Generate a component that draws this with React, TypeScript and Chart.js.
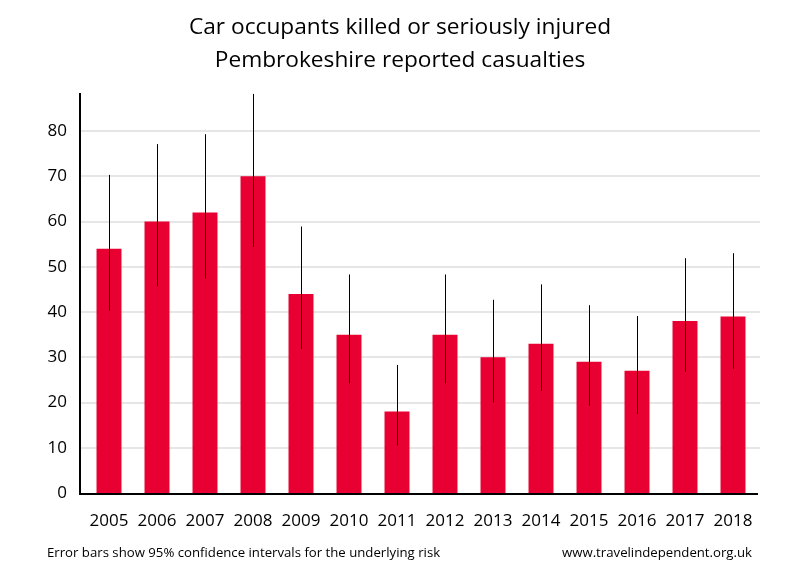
import React, { useEffect, useRef } from "react";
import { Chart, registerables } from "chart.js";

Chart.register(...registerables);

const years = ["2005","2006","2007","2008","2009","2010","2011","2012","2013","2014","2015","2016","2017","2018"];
const casualties = [54, 60, 62, 70, 44, 35, 18, 35, 30, 33, 29, 27, 38, 39];
const lowerCI = [40.3, 45.7, 47.4, 54.4, 31.8, 24.2, 10.5, 24.2, 20.0, 22.6, 19.3, 17.5, 26.8, 27.5];
const upperCI = [70.3, 77.1, 79.3, 88.2, 58.9, 48.3, 28.3, 48.3, 42.7, 46.1, 41.5, 39.1, 51.9, 53.0];
const titleLines = ["Car occupants killed or seriously injured", "Pembrokeshire reported casualties"];
const footLeft = "Error bars show 95% confidence intervals for the underlying risk";
const footRight = "www.travelindependent.org.uk";

const FONT = "'Open Sans', 'DejaVu Sans', sans-serif";

const decor = {
  id: "decor",
  beforeDatasetsDraw(chart: any) {
    const { ctx, scales } = chart;
    const y = scales.y;
    ctx.save();
    ctx.strokeStyle = "#e6e6e6";
    ctx.lineWidth = 2;
    for (let v = 10; v <= 80; v += 10) {
      const py = Math.round(y.getPixelForValue(v));
      ctx.beginPath();
      ctx.moveTo(80, py);
      ctx.lineTo(760, py);
      ctx.stroke();
    }
    ctx.restore();
  },
  afterDatasetsDraw(chart: any) {
    const { ctx, chartArea, scales } = chart;
    const x = scales.x;
    const y = scales.y;
    ctx.save();
    ctx.strokeStyle = "#000";
    ctx.lineWidth = 1;
    for (let i = 0; i < years.length; i++) {
      const px = Math.round(x.getPixelForValue(i)) + 0.5;
      ctx.beginPath();
      ctx.moveTo(px, y.getPixelForValue(upperCI[i]));
      ctx.lineTo(px, y.getPixelForValue(lowerCI[i]));
      ctx.stroke();
    }
    ctx.lineWidth = 2;
    ctx.beginPath();
    ctx.moveTo(80, chartArea.top);
    ctx.lineTo(80, chartArea.bottom + 1);
    ctx.lineTo(758, chartArea.bottom + 1);
    ctx.stroke();
    ctx.fillStyle = "#000";
    ctx.textAlign = "center";
    ctx.textBaseline = "middle";
    ctx.font = `22.7px ${FONT}`;
    ctx.fillText(titleLines[0], 400, 28);
    ctx.fillText(titleLines[1], 400, 61);
    ctx.font = `13.2px ${FONT}`;
    ctx.textAlign = "left";
    ctx.fillText(footLeft, 47, 553);
    ctx.textAlign = "right";
    ctx.fillText(footRight, 752, 553);
    ctx.restore();
  },
};

export default function App() {
  const ref = useRef<HTMLCanvasElement>(null);
  useEffect(() => {
    if (!ref.current) return;
    const chart = new Chart(ref.current, {
      type: "bar",
      data: {
        labels: years,
        datasets: [
          {
            data: casualties,
            backgroundColor: "#e80032",
            barPercentage: 0.52,
            categoryPercentage: 1,
          },
        ],
      },
      options: {
        responsive: false,
        animation: false,
        layout: { padding: { top: 93, left: 0, right: 43, bottom: 0 } },
        plugins: { legend: { display: false }, title: { display: false }, tooltip: { enabled: false } },
        scales: {
          x: {
            grid: { display: false, drawTicks: false },
            border: { display: false },
            ticks: { color: "#000", font: { family: FONT, size: 17 }, padding: 18, maxRotation: 0, autoSkip: false },
            afterFit: (s: any) => { s.height = 87; },
          },
          y: {
            min: 0,
            max: 88.4,
            grid: { display: false, drawTicks: false },
            border: { display: false },
            ticks: { stepSize: 10, color: "#000", font: { family: FONT, size: 17 }, padding: 18 },
            afterBuildTicks: (s: any) => { s.ticks = s.ticks.filter((t: any) => t.value % 10 === 0); },
            afterFit: (s: any) => { s.width = 85; },
          },
        },
      },
      plugins: [decor],
    });
    return () => chart.destroy();
  }, []);
  return (
    <div style={{ position: "absolute", left: 0, top: 0, width: 800, height: 580, background: "#fff" }}>
      <canvas ref={ref} width={800} height={580} />
    </div>
  );
}
